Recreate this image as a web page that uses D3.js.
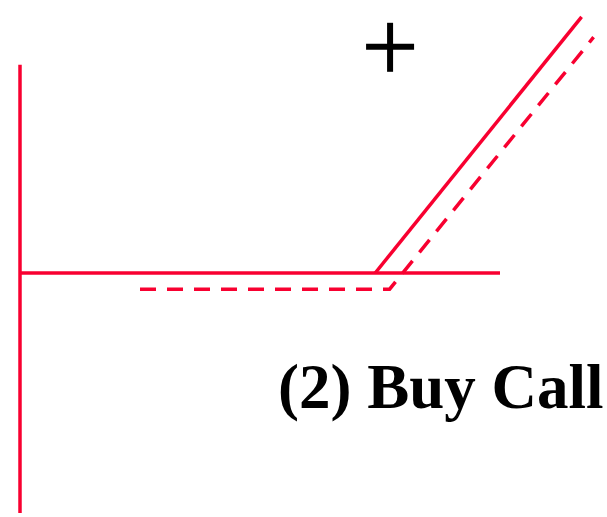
<!DOCTYPE html>
<html>
<head>
<meta charset="utf-8">
<script src="https://cdn.jsdelivr.net/npm/d3@7"></script>
<style>
  body { margin: 0; background: #fff; }
</style>
</head>
<body>
<div class="chart"></div>
<script>
// Width and height
var width = 607;
var height = 517;
var red = '#f80030';

// Payoff data (price, payoff)
var axisX = [[0, 0], [100, 0]];
var axisY = [[0, 34.7], [0, -40]];
var payoffGross = [[74, 0], [117, 42.7]];
var payoffNet = [[25, -2.7], [77, -2.7], [119.5, 39.3]];
var signLabel = { x: 77.1, y: 37.7, text: '+' };
var titleLabel = '(2) Buy Call';

// Scales
var xScale = d3.scaleLinear()
               .domain([0, 100])
               .range([20, 500]);

var yScale = d3.scaleLinear()
               .domain([-40, 40])
               .range([513, 33]);

var line = d3.line()
             .x(function(d) { return xScale(d[0]); })
             .y(function(d) { return yScale(d[1]); });

var svg = d3.select('.chart')
            .append('svg')
            .attr('width', width)
            .attr('height', height);

// Axes
svg.append('path')
   .attr('d', line(axisY))
   .style('fill', 'none')
   .style('stroke', red)
   .style('stroke-width', 3.5);

svg.append('path')
   .attr('d', line(axisX))
   .style('fill', 'none')
   .style('stroke', red)
   .style('stroke-width', 3.5);

// Payoff lines
svg.append('path')
   .attr('d', line(payoffGross))
   .style('fill', 'none')
   .style('stroke', red)
   .style('stroke-width', 3.5);

svg.append('path')
   .attr('d', line(payoffNet))
   .style('fill', 'none')
   .style('stroke', red)
   .style('stroke-width', 3.5)
   .style('stroke-dasharray', '16,11');

// Plus sign
var px = xScale(signLabel.x), py = yScale(signLabel.y);
svg.append('line')
   .attr('x1', px - 24).attr('x2', px + 24)
   .attr('y1', py).attr('y2', py)
   .style('stroke', '#000')
   .style('stroke-width', 6);
svg.append('line')
   .attr('x1', px).attr('x2', px)
   .attr('y1', py - 24).attr('y2', py + 25)
   .style('stroke', '#000')
   .style('stroke-width', 6);

// Title
svg.append('text')
   .attr('x', 278)
   .attr('y', 408)
   .style('font-family', '"Liberation Serif", "Times New Roman", serif')
   .style('font-weight', 'bold')
   .style('font-size', '63px')
   .style('fill', '#000')
   .text(titleLabel);
</script>
</body>
</html>
